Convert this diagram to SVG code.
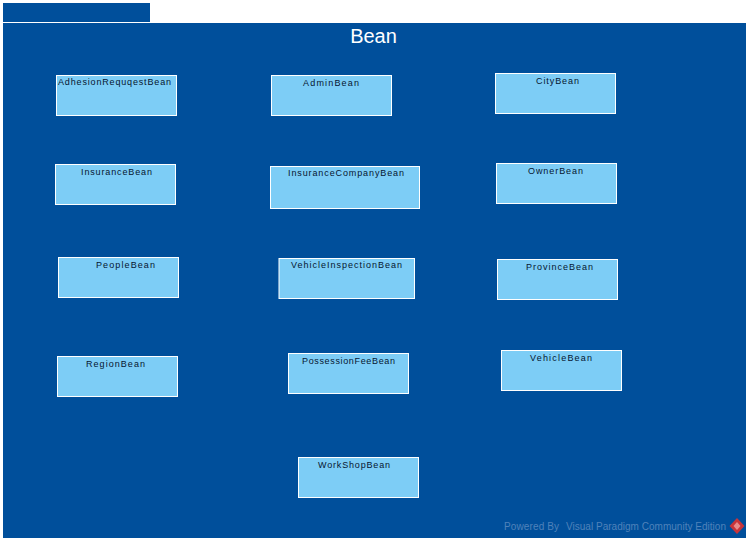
<svg xmlns="http://www.w3.org/2000/svg" width="749" height="543" viewBox="0 0 749 543">
<style>
.n{fill:#7dcdf6;stroke:#fff;stroke-width:1}
.t{font:9px "Liberation Sans",Arial,sans-serif;fill:#061530}
.p{fill:#004f9b}
.w{font:10px "Liberation Sans",Arial,sans-serif;fill:#4f82ba}
</style>
<rect width="749" height="543" fill="#fff"/>
<g id="package">
<rect class="p" x="3" y="3" width="147" height="19"/>
<rect class="p" x="3" y="23" width="743" height="515"/>
<text x="373.500" y="43" font-family="'Liberation Sans',Arial,sans-serif" font-size="20" fill="#fff" text-anchor="middle">Bean</text>
</g>
<g id="connectors"></g>
<g id="AdhesionRequqestBean"><rect class="n" x="56.500" y="75.500" width="120" height="40"/><text class="t" x="58" y="85" textLength="113">AdhesionRequqestBean</text></g>
<g id="AdminBean"><rect class="n" x="271.500" y="75.500" width="120" height="40"/><text class="t" x="303" y="86" textLength="56">AdminBean</text></g>
<g id="CityBean"><rect class="n" x="495.500" y="73.500" width="120" height="40"/><text class="t" x="536" y="84" textLength="43">CityBean</text></g>
<g id="InsuranceBean"><rect class="n" x="55.500" y="164.500" width="120" height="40"/><text class="t" x="81" y="175" textLength="71">InsuranceBean</text></g>
<g id="InsuranceCompanyBean"><rect class="n" x="270.500" y="166.500" width="149" height="42"/><text class="t" x="288" y="176" textLength="116">InsuranceCompanyBean</text></g>
<g id="OwnerBean"><rect class="n" x="496.500" y="163.500" width="120" height="40"/><text class="t" x="528" y="174" textLength="55">OwnerBean</text></g>
<g id="PeopleBean"><rect class="n" x="58.500" y="257.500" width="120" height="40"/><text class="t" x="96" y="268" textLength="59">PeopleBean</text></g>
<g id="VehicleInspectionBean"><rect class="n" x="279" y="258.500" width="135.500" height="40"/><text class="t" x="291" y="268" textLength="111">VehicleInspectionBean</text></g>
<g id="ProvinceBean"><rect class="n" x="497.500" y="259.500" width="120" height="40"/><text class="t" x="526" y="270" textLength="67">ProvinceBean</text></g>
<g id="RegionBean"><rect class="n" x="57.500" y="356.500" width="120" height="40"/><text class="t" x="86" y="367" textLength="59">RegionBean</text></g>
<g id="PossessionFeeBean"><rect class="n" x="288.500" y="353.500" width="120" height="40"/><text class="t" x="302" y="364" textLength="93">PossessionFeeBean</text></g>
<g id="VehicleBean"><rect class="n" x="501.500" y="350.500" width="120" height="40"/><text class="t" x="530" y="361" textLength="62">VehicleBean</text></g>
<g id="WorkShopBean"><rect class="n" x="298.500" y="457.500" width="120" height="40"/><text class="t" x="318" y="468" textLength="72">WorkShopBean</text></g>
<g id="watermark">
<text class="w" x="504" y="530" textLength="55">Powered By</text>
<text class="w" x="566" y="530" textLength="160">Visual Paradigm Community Edition</text>
<path d="M737 518l7.500 8-7.500 8-7.500-8z" fill="#c8343a"/>
<path d="M737 522l3.500 4-3.500 4-3.500-4z" fill="#e88a8a"/>
</g>
</svg>
